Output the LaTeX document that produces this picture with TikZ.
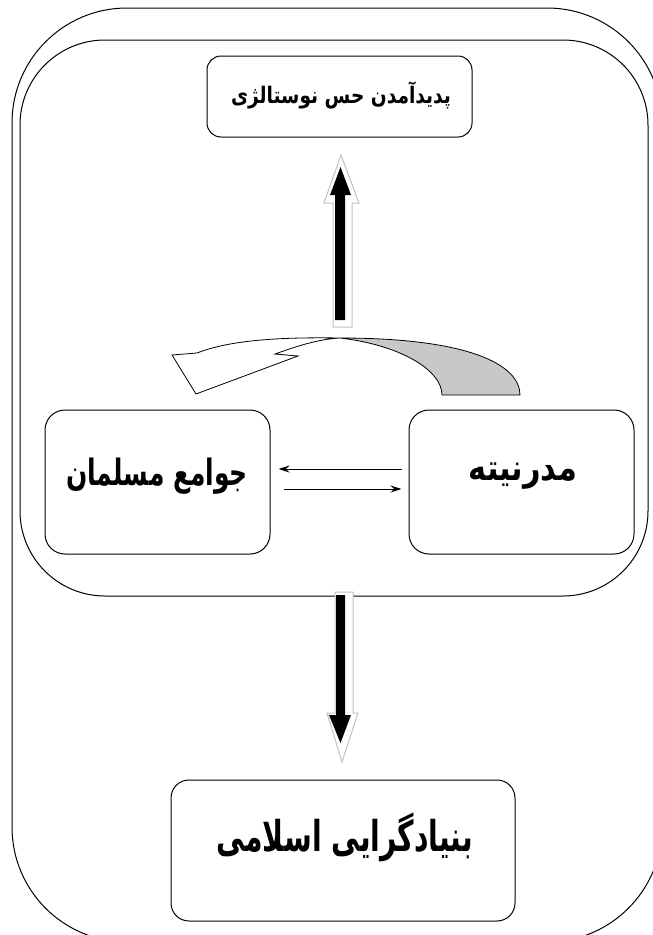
\documentclass[tikz,border=0pt]{standalone}
\usepackage{fontspec}
\usetikzlibrary{arrows.meta}
\TeXXeTstate=1
\newfontfamily\fafont[Script=Arabic]{DejaVu Sans}
\definecolor{ribbon}{HTML}{C8C8C8}
\definecolor{shade}{HTML}{BCC2C6}
\tikzset{
  frame/.style={draw, line width=1pt},
  box/.style={draw, line width=1pt, rounded corners=14pt, inner sep=0pt},
  lbl/.style={inner sep=0pt},
  linkarrow/.style={line width=1pt, -{Stealth[length=11pt,width=7pt]}},
  ribbonline/.style={line width=0.8pt},
}
\begin{document}
\begin{tikzpicture}[x=1pt,y=-1pt]
\useasboundingbox (0,0) rectangle (653,935);
% frames
\draw[frame, rounded corners=115pt] (12,8) rectangle (662,942);
\draw[frame, rounded corners=85pt] (20,40) rectangle (648,596);
% boxes
\node[box, minimum width=265pt, minimum height=81pt] (top) at (339.5,96.5) {};
\node[box, rounded corners=20pt, minimum width=225pt, minimum height=144pt] (L) at (157.5,482) {};
\node[box, rounded corners=20pt, minimum width=225pt, minimum height=144pt] (R) at (521.5,482) {};
\node[box, rounded corners=18pt, minimum width=344pt, minimum height=141pt] (bot) at (343,850.5) {};
% labels
\node[lbl] (topt) at (341,95) {\scalebox{0.98}[1.2]{\fontsize{19}{22}\fafont\bfseries\beginR پدیدآمدن حس نوستالژی\endR}};
\node[lbl] (Lt) at (157,476) {\scalebox{0.86}[1.25]{\fontsize{29}{34}\fafont\bfseries\beginR جوامع مسلمان\endR}};
\node[lbl] (Rt) at (523,476) {\scalebox{1.05}[1.25]{\fontsize{29}{34}\fafont\bfseries\beginR مدرنیته\endR}};
\node[lbl] (bott) at (345,837) {\scalebox{0.83}[1.25]{\fontsize{34}{40}\fafont\bfseries\beginR بنیادگرایی اسلامی\endR}};
% thin arrows
\draw[linkarrow] ([shift={(-7,-13)}]R.west) -- ([shift={(8,-13)}]L.east);
\draw[linkarrow] ([shift={(13,7)}]L.east) -- ([shift={(-7,7)}]R.west);
% ribbon arrow
\filldraw[ribbonline, fill=ribbon] (340,338) .. controls (470,338) and (520,365) .. (520,395) -- (442,395) .. controls (442,370) and (400,345) .. (340,338) -- cycle;
\filldraw[ribbonline, fill=white] (340,338) .. controls (280,337) and (230,340) .. (197,353) -- (172,355) -- (196,394) -- (298,356) -- (275,354) .. controls (300,345) and (320,339) .. (340,338) -- cycle;
% up arrow
\filldraw[draw=shade, fill=white, line width=1pt] (333,327) -- (333,203) -- (324,203) -- (341,155) -- (359,203) -- (352,203) -- (352,327) -- cycle;
\fill (335,320) -- (335,195) -- (330,195) -- (340.5,167) -- (351,195) -- (345,195) -- (345,320) -- cycle;
% down arrow
\filldraw[draw=shade, fill=white, line width=1pt] (335,592) -- (353,592) -- (353,713) -- (358,713) -- (342,762) -- (327,713) -- (335,713) -- cycle;
\fill (336,595) -- (345,595) -- (345,715) -- (351,715) -- (340.5,743) -- (329,715) -- (336,715) -- cycle;
\end{tikzpicture}
\end{document}
